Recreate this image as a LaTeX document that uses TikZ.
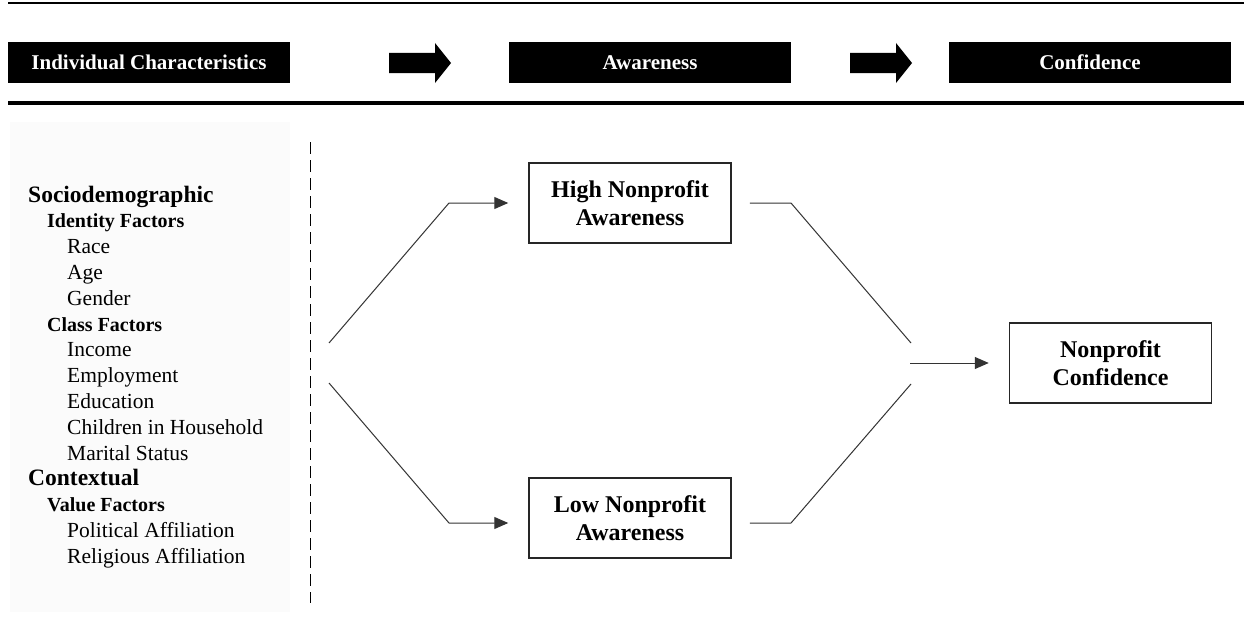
\documentclass[tikz,border=0pt]{standalone}
\usepackage{fontspec}
\setmainfont{Liberation Serif}
\usetikzlibrary{arrows.meta}
\begin{document}
\begin{tikzpicture}[x=1pt,y=-1pt,
  headbox/.style={fill=black,text=white,font=\bfseries\fontsize{21}{24}\selectfont,minimum width=282pt,minimum height=41pt,inner sep=0pt},
  blockarrow/.style={fill=black},
  stagebox/.style={draw=black!85,line width=1.5pt,fill=white,minimum width=202pt,minimum height=80pt,inner sep=0pt,align=center,font=\bfseries\fontsize{24}{28}\selectfont},
  conn/.style={draw=black!80,line width=1pt},
  tip/.style={-{Triangle[length=14pt,width=12pt]}},
  lvla/.style={anchor=base west,inner sep=0pt,font=\bfseries\fontsize{23.5}{26}\selectfont},
  lvlb/.style={anchor=base west,inner sep=0pt,font=\bfseries\fontsize{20}{24}\selectfont},
  lvlc/.style={anchor=base west,inner sep=0pt,font=\fontsize{21.5}{24}\selectfont},
]
\useasboundingbox (0,0) rectangle (1244,618);
\fill[white] (0,0) rectangle (1244,618);
% rules
\draw[line width=1.5pt] (8,3) -- (1244,3);
\draw[line width=4.5pt] (8,103) -- (1244,103);
% header boxes
\node[headbox] (ic) at (149,62.5) {Individual Characteristics};
\node[headbox] (aw) at (650,62.5) {Awareness};
\node[headbox] (cf) at (1090,62.5) {Confidence};
% block arrows
\fill[blockarrow] (389,53) -- (435,53) -- (435,43) -- (451,63) -- (435,83) -- (435,73) -- (389,73) -- cycle;
\fill[blockarrow] (850,53) -- (896,53) -- (896,43) -- (912,63) -- (896,83) -- (896,73) -- (850,73) -- cycle;
% left panel
\fill[black!1.5] (10,122) rectangle (290,612);
\draw[line width=1pt,dash pattern=on 12pt off 6pt] (310,142) -- (310,603);
\node[lvla] (t1) at (28,202) {Sociodemographic};
\node[lvlb] (t2) at (47,227.8) {Identity Factors};
\node[lvlc] (t3) at (67,253.6) {Race};
\node[lvlc] (t4) at (67,279.4) {Age};
\node[lvlc] (t5) at (67,305.2) {Gender};
\node[lvlb] (t6) at (47,331) {Class Factors};
\node[lvlc] (t7) at (67,356.8) {Income};
\node[lvlc] (t8) at (67,382.6) {Employment};
\node[lvlc] (t9) at (67,408.4) {Education};
\node[lvlc] (t10) at (67,434.2) {Children in Household};
\node[lvlc] (t11) at (67,460) {Marital Status};
\node[lvla] (t12) at (28,485.8) {Contextual};
\node[lvlb] (t13) at (47,511.6) {Value Factors};
\node[lvlc] (t14) at (67,537.4) {Political Affiliation};
\node[lvlc] (t15) at (67,563.2) {Religious Affiliation};
% stage boxes
\node[stagebox] (high) at (630,203) {High Nonprofit\\Awareness};
\node[stagebox] (low) at (630,518) {Low Nonprofit\\Awareness};
\node[stagebox] (conf) at (1110.5,363) {Nonprofit\\Confidence};
% connector points
\coordinate (s1) at (329,343);
\coordinate (s2) at (329,383);
\coordinate (b1) at (449,203);
\coordinate (b2) at (449,523);
\coordinate (r1) at (791,203);
\coordinate (r2) at (791,523);
\coordinate (m1) at (911,343);
\coordinate (m2) at (911,384);
\coordinate (m0) at (910,363);
% connectors
\draw[conn,tip] (s1) -- (b1) -- ([xshift=-20pt]high.west);
\draw[conn,tip] (s2) -- (b2) -- ([xshift=-20pt]low.west |- b2);
\draw[conn] ([xshift=18pt]high.east) -- (r1) -- (m1);
\draw[conn] ([xshift=18pt]low.east |- r2) -- (r2) -- (m2);
\draw[conn,tip] (m0) -- ([xshift=-20pt]conf.west);
\end{tikzpicture}
\end{document}
